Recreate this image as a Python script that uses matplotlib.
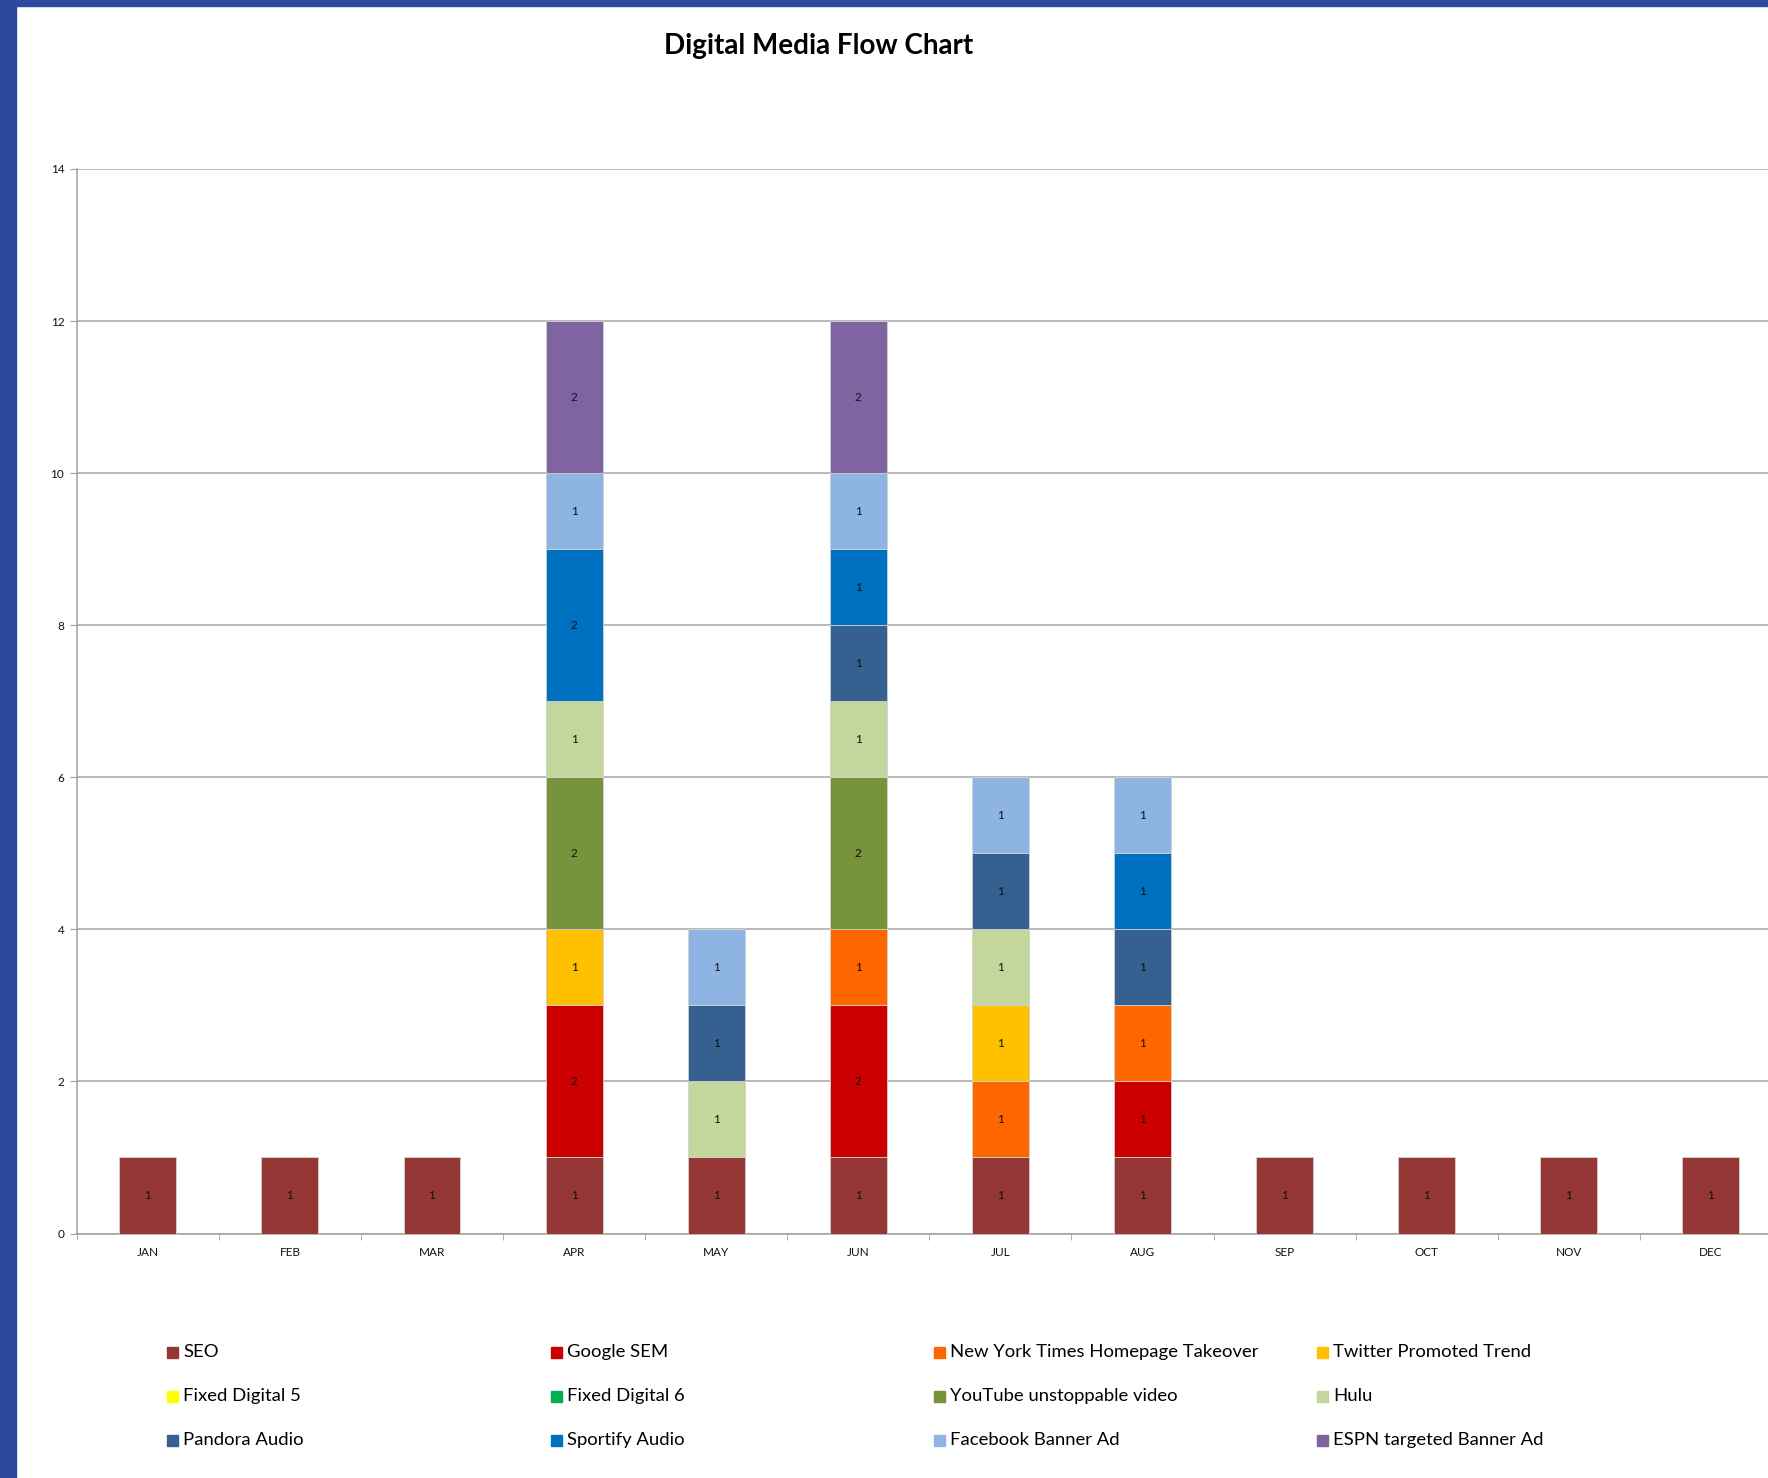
import numpy as np
import matplotlib.pyplot as plt
from matplotlib.patches import Rectangle

plt.rcParams["font.family"] = ["Lato", "DejaVu Sans"]

# Data
months = ["JAN", "FEB", "MAR", "APR", "MAY", "JUN", "JUL", "AUG", "SEP", "OCT", "NOV", "DEC"]
series = ["SEO", "Google SEM", "New York Times Homepage Takeover", "Twitter Promoted Trend",
          "Fixed Digital 5", "Fixed Digital 6", "YouTube unstoppable video", "Hulu",
          "Pandora Audio", "Sportify Audio", "Facebook Banner Ad", "ESPN targeted Banner Ad"]
colors = ["#953735", "#CC0000", "#FF6600", "#FFC000",
          "#FFFF00", "#00B050", "#77933C", "#C3D69B",
          "#35608F", "#0070C0", "#8EB4E3", "#8064A2"]

seo        = [1, 1, 1, 1, 1, 1, 1, 1, 1, 1, 1, 1]
google_sem = [0, 0, 0, 2, 0, 2, 0, 1, 0, 0, 0, 0]
nyt        = [0, 0, 0, 0, 0, 1, 1, 1, 0, 0, 0, 0]
twitter    = [0, 0, 0, 1, 0, 0, 1, 0, 0, 0, 0, 0]
fixed5     = [0, 0, 0, 0, 0, 0, 0, 0, 0, 0, 0, 0]
fixed6     = [0, 0, 0, 0, 0, 0, 0, 0, 0, 0, 0, 0]
youtube    = [0, 0, 0, 2, 0, 2, 0, 0, 0, 0, 0, 0]
hulu       = [0, 0, 0, 1, 1, 1, 1, 0, 0, 0, 0, 0]
pandora    = [0, 0, 0, 0, 1, 1, 1, 1, 0, 0, 0, 0]
spotify    = [0, 0, 0, 2, 0, 1, 0, 1, 0, 0, 0, 0]
facebook   = [0, 0, 0, 1, 1, 1, 1, 1, 0, 0, 0, 0]
espn       = [0, 0, 0, 2, 0, 2, 0, 0, 0, 0, 0, 0]

values = [seo, google_sem, nyt, twitter, fixed5, fixed6, youtube, hulu,
          pandora, spotify, facebook, espn]

fig = plt.figure(figsize=(17.68, 14.78), dpi=100)
fig.patch.set_facecolor("white")

# blue frame on left and top
fig.add_artist(Rectangle((0, 0), 16 / 1768, 1, transform=fig.transFigure,
                         color="#2B4A9C", zorder=10))
fig.add_artist(Rectangle((0, 1 - 6 / 1478), 1, 6 / 1478, transform=fig.transFigure,
                         color="#2B4A9C", zorder=10))

ax = fig.add_axes([0.0434, 0.1654, 0.9645, 0.7203])
x = np.arange(len(months))
bottom = np.zeros(len(months))
for name, vals, col in zip(series, values, colors):
    vals = np.array(vals, dtype=float)
    bars = ax.bar(x, vals, 0.4, bottom=bottom, color=col, edgecolor="#d0d0d0",
                  linewidth=0.6, zorder=3, label=name)
    labels = [f"{int(v)}" if v > 0 else "" for v in vals]
    ax.bar_label(bars, labels=labels, label_type="center", fontsize=8.5, color="#111111")
    bottom += vals

ax.set_xlim(-0.5, len(months) - 0.5)
ax.set_ylim(0, 14)
ax.set_yticks(range(0, 15, 2))
ax.set_xticks(x)
ax.set_xticklabels(months, fontsize=8.5, color="#111111")
ax.set_xticks(np.arange(-0.5, len(months)), minor=True)
ax.tick_params(axis="x", which="major", length=0, pad=10)
ax.tick_params(axis="x", which="minor", length=4, color="#a0a0a0")
ax.tick_params(axis="y", length=5, color="#a0a0a0", labelsize=8.5, labelcolor="#111111", pad=4)
ax.grid(axis="y", color="#a6a6a6", linewidth=1.1, zorder=0)
for s in ["top", "right"]:
    ax.spines[s].set_visible(False)
for s in ["left", "bottom"]:
    ax.spines[s].set_color("#a0a0a0")
    ax.spines[s].set_linewidth(1.1)

fig.text(0.463, 0.969, "Digital Media Flow Chart", ha="center", va="center",
         fontsize=20, fontweight="bold")

# legend laid out as 4 columns x 3 rows
col_x = [172, 556, 939, 1322]
row_y = [1352, 1396, 1440]
for i, (name, col) in enumerate(zip(series, colors)):
    r, c = divmod(i, 4)
    mx = col_x[c] / 1768
    my = 1 - row_y[r] / 1478
    fig.add_artist(Rectangle((mx - 5.5 / 1768, my - 5.5 / 1478), 11 / 1768, 11 / 1478,
                             transform=fig.transFigure, color=col))
    fig.text(mx + 11 / 1768, my, name, ha="left", va="center", fontsize=13.3)

fig.savefig("out.png", dpi=100)
